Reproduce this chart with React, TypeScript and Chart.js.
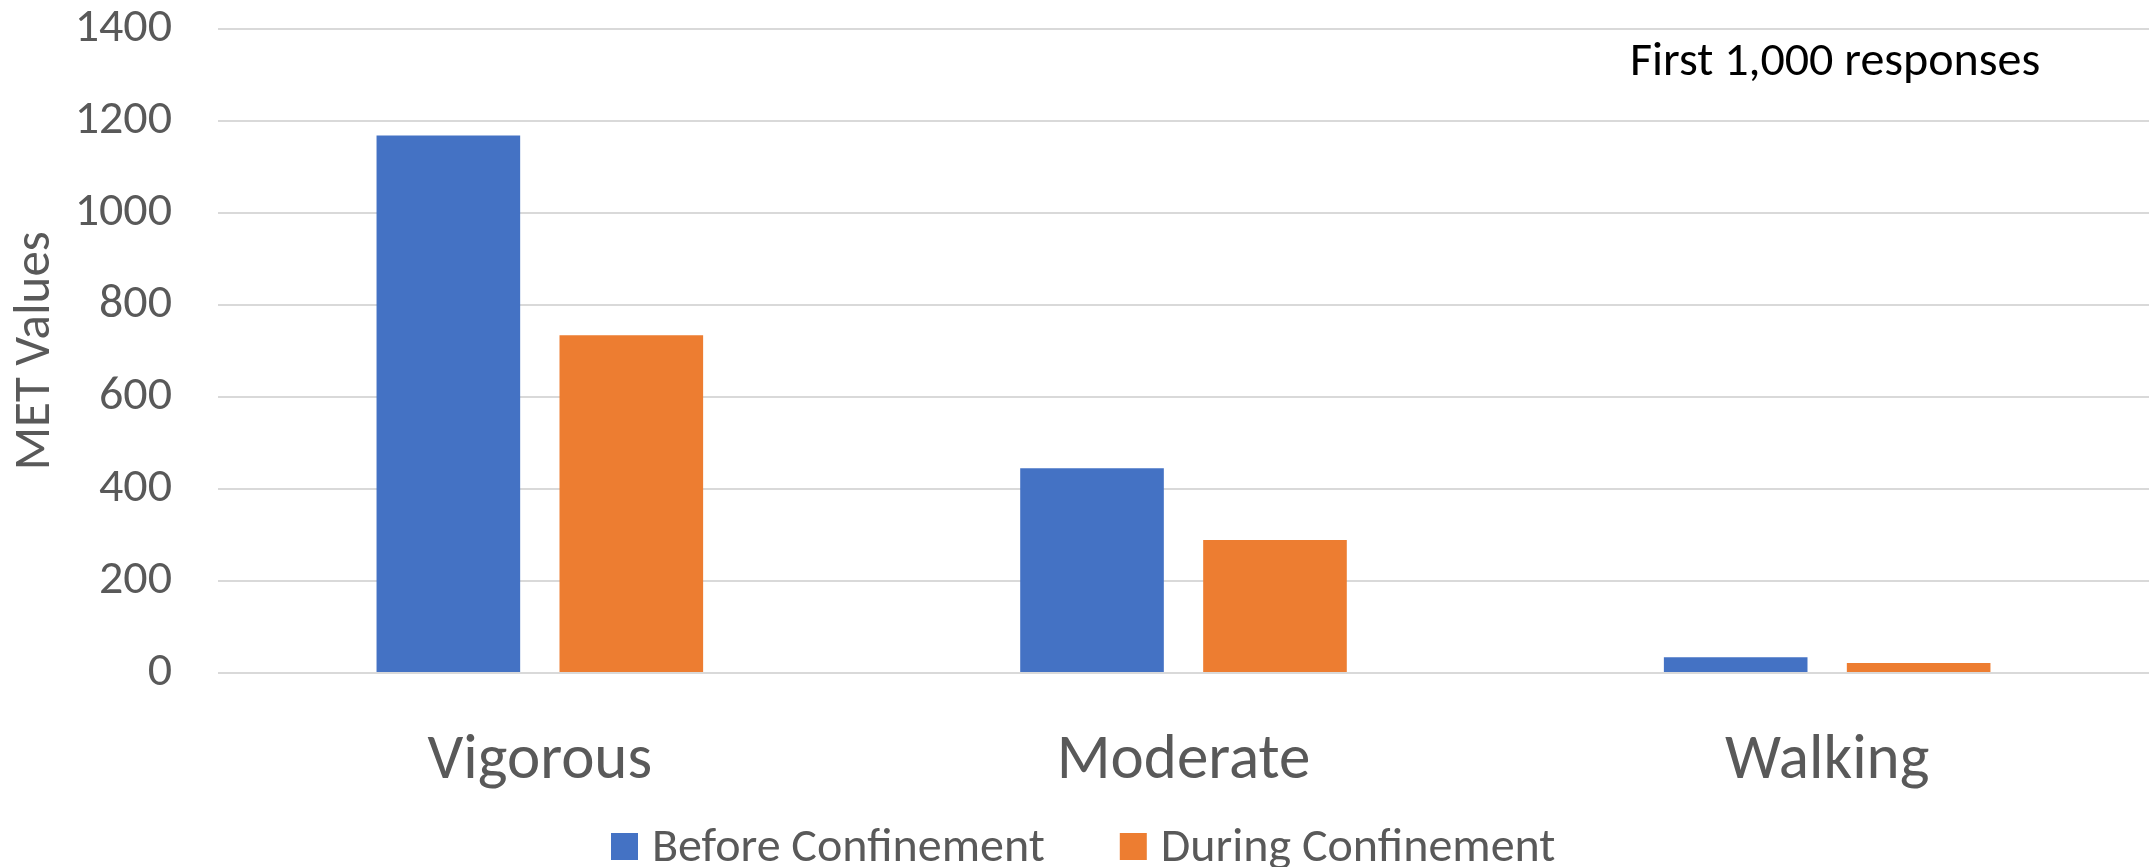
import React, { useEffect, useRef } from "react";
import { Chart, registerables } from "chart.js";

Chart.register(...registerables);

const categories = ["Vigorous", "Moderate", "Walking"];
const beforeValues = [1168, 445, 34];
const duringValues = [734, 289, 22];
const seriesLabels = ["Before Confinement", "During Confinement"];
const seriesColors = ["#4472C4", "#ED7D31"];
const yMax = 1400;
const yStep = 200;
const yTitle = "MET Values";
const noteText = "First 1,000 responses";

const FONT = 'Carlito, Calibri, Lato, "Liberation Sans", sans-serif';
const W = 2152;
const H = 867;

const overlayPlugin = {
  id: "overlay",
  afterDraw(chart: any) {
    const ctx = chart.ctx;
    ctx.save();
    // annotation
    ctx.font = `48px ${FONT}`;
    ctx.fillStyle = "#000000";
    ctx.textBaseline = "alphabetic";
    ctx.textAlign = "left";
    ctx.fillText(noteText, 1630, 75);
    // legend
    ctx.font = `48px ${FONT}`;
    const box = 27;
    const gapText = 14;
    const gapItem = 75;
    const items = chart.data.datasets.map((d: any) => ({
      label: d.label,
      color: d.backgroundColor,
      w: ctx.measureText(d.label).width,
    }));
    let x = 611;
    const cy = 846.5;
    ctx.textBaseline = "middle";
    items.forEach((it: any) => {
      ctx.fillStyle = it.color;
      ctx.fillRect(x, cy - box / 2, box, box);
      x += box + gapText;
      ctx.fillStyle = "#595959";
      ctx.fillText(it.label, x, cy + 2);
      x += it.w + gapItem;
    });
    ctx.restore();
  },
};

export default function App() {
  const ref = useRef<HTMLCanvasElement | null>(null);
  useEffect(() => {
    document.body.style.margin = "0";
    const canvas = ref.current!;
    const chart = new Chart(canvas, {
      type: "bar",
      data: {
        labels: categories,
        datasets: [
          {
            label: seriesLabels[0],
            data: beforeValues,
            backgroundColor: seriesColors[0],
            categoryPercentage: 0.5685,
            barPercentage: 0.785,
          },
          {
            label: seriesLabels[1],
            data: duringValues,
            backgroundColor: seriesColors[1],
            categoryPercentage: 0.5685,
            barPercentage: 0.785,
          },
        ],
      },
      options: {
        animation: false,
        responsive: false,
        devicePixelRatio: 1,
        layout: { padding: { top: 28, right: 3, left: 0, bottom: 0 } },
        plugins: {
          legend: { display: false },
          tooltip: { enabled: false },
        },
        scales: {
          x: {
            grid: { display: false },
            border: { display: false },
            ticks: {
              color: "#595959",
              font: { family: FONT, size: 63 },
              padding: 43,
              maxRotation: 0,
            },
            afterFit: (s: any) => {
              s.height = H - 673;
            },
          },
          y: {
            min: 0,
            max: yMax,
            ticks: {
              stepSize: yStep,
              color: "#595959",
              font: { family: FONT, size: 48 },
              padding: 0,
              callback: (v: any) => String(v),
            },
            grid: {
              color: "#d9d9d9",
              lineWidth: 2,
              drawTicks: true,
              tickLength: 46,
              tickColor: "rgba(0,0,0,0)",
            },
            border: { display: false },
            title: {
              display: true,
              text: yTitle,
              color: "#595959",
              font: { family: FONT, size: 51 },
              padding: { top: 6, bottom: 0 },
            },
            afterFit: (s: any) => {
              s.width = 218;
            },
          },
        },
      },
      plugins: [overlayPlugin],
    });
    return () => chart.destroy();
  }, []);
  return (
    <div style={{ width: W, height: H, position: "relative" }}>
      <canvas ref={ref} width={W} height={H} style={{ width: W, height: H, display: "block" }} />
    </div>
  );
}
